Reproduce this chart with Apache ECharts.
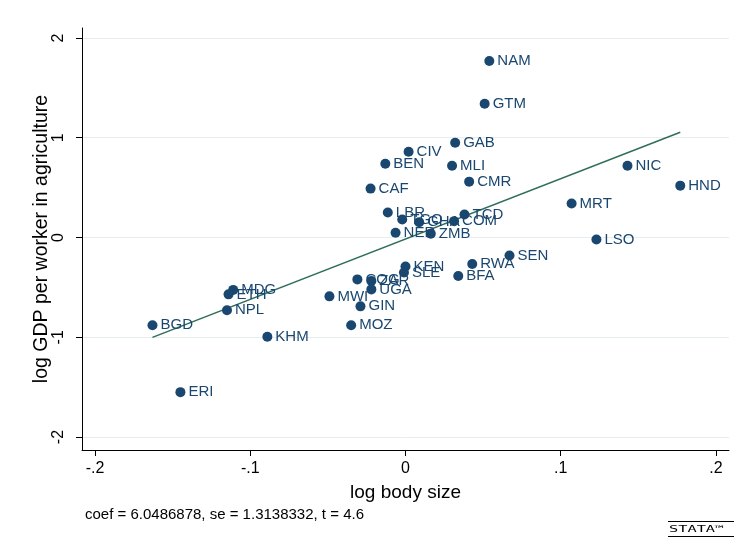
<!DOCTYPE html>
<html>
<head>
<meta charset="utf-8">
<script src="https://cdn.jsdelivr.net/npm/echarts@6/dist/echarts.min.js"></script>
<style>html,body{margin:0;padding:0;background:#fff}#c{width:737px;height:542px}</style>
</head>
<body>
<div id="c"></div>
<script>
const countries = ["NAM","GTM","GAB","CIV","BEN","MLI","CMR","CAF","NIC","HND","MRT","LSO","LBR","TGO","GHA","COM","TCD","NER","ZMB","KEN","SLE","BFA","RWA","SEN","COG","ZAR","UGA","MWI","GIN","MOZ","KHM","MDG","ETH","NPL","BGD","ERI"];
const bodySize = [0.054,0.051,0.032,0.002,-0.013,0.030,0.041,-0.0225,0.143,0.177,0.107,0.123,-0.0114,-0.0021,0.0088,0.0313,0.038,-0.0064,0.0163,0.000,-0.001,0.034,0.043,0.067,-0.031,-0.022,-0.022,-0.049,-0.029,-0.035,-0.089,-0.111,-0.114,-0.115,-0.163,-0.145];
const gdpAg = [1.77,1.34,0.95,0.86,0.74,0.72,0.56,0.49,0.72,0.52,0.34,-0.02,0.25,0.18,0.154,0.164,0.23,0.047,0.037,-0.29,-0.35,-0.385,-0.265,-0.18,-0.42,-0.435,-0.52,-0.59,-0.69,-0.88,-0.995,-0.525,-0.57,-0.73,-0.88,-1.55];
const xTicks = [-0.2,-0.1,0,0.1,0.2];
const xTickLabels = ["-.2","-.1","0",".1",".2"];
const yTicks = [-2,-1,0,1,2];
const coef = 6.0486878, intercept = -0.015;
const note = "coef = 6.0486878, se = 1.3138332, t = 4.6";

const navy = "#1a476f";
const pts = countries.map((c,i)=>[bodySize[i], gdpAg[i], c]);
const xmin = Math.min(...bodySize), xmax = Math.max(...bodySize);
const fit = [[xmin, intercept + coef*xmin],[xmax, intercept + coef*xmax]];

const chart = echarts.init(document.getElementById('c'));
chart.setOption({
  animation:false,
  backgroundColor:'#fff',
  textStyle:{fontFamily:'Liberation Sans, Arial, sans-serif'},
  grid:{left:82,right:8,top:28,bottom:92,containLabel:false},
  xAxis:{type:'value',min:-0.2084,max:0.2084,
    name:'log body size',nameLocation:'middle',nameGap:33,
    nameTextStyle:{fontSize:19,color:'#000'},
    axisLine:{show:true,onZero:false,lineStyle:{color:'#000',width:1}},
    axisTick:{show:true,length:6,inside:false,customValues:xTicks,lineStyle:{color:'#000'}},
    axisLabel:{customValues:xTicks,fontSize:16,color:'#000',margin:11,formatter:v=>{const i=xTicks.findIndex(t=>Math.abs(t-v)<1e-9);return i>=0?xTickLabels[i]:'';}},
    splitLine:{show:false}},
  yAxis:{type:'value',min:-2.13,max:2.1,
    name:'log GDP per worker in agriculture',nameLocation:'middle',nameGap:30,nameRotate:90,nameMoveOverlap:false,
    nameTextStyle:{fontSize:19.5,color:'#000'},
    axisLine:{show:true,onZero:false,lineStyle:{color:'#000',width:1}},
    axisTick:{show:true,length:6,customValues:yTicks,lineStyle:{color:'#000'}},
    axisLabel:{customValues:yTicks,fontSize:16,color:'#000',rotate:90,margin:15,formatter:v=>String(Math.round(v))},
    splitLine:{show:false}},
  series:[
    {type:'line',data:[],z:0,silent:true,
     markLine:{silent:true,z:0,symbol:['none','none'],label:{show:false},
       lineStyle:{color:'#e6eef0',width:1,type:'solid'},
       data:yTicks.map(v=>({yAxis:v}))}},
    {type:'line',data:fit,symbol:'none',lineStyle:{color:'#2e6e5a',width:1.5},z:3},
    {type:'scatter',data:pts,symbolSize:10,itemStyle:{color:navy,opacity:1},z:4,
     label:{show:true,position:'right',distance:3,formatter:p=>p.data[2],fontSize:15,color:navy}}
  ],
  graphic:[
    {type:'text',left:85,top:507,style:{text:note,fill:'#000',font:'15px Liberation Sans, Arial'}},
    {type:'group',left:668,top:521,children:[
      {type:'rect',shape:{x:0,y:0,width:66,height:1},style:{fill:'#000'}},
      {type:'text',x:1,y:4,scaleX:1.7,style:{text:'STATA™',font:'9px DejaVu Sans Mono, monospace',fill:'#000'}},
      {type:'rect',shape:{x:0,y:15,width:66,height:1},style:{fill:'#000'}}
    ]}
  ]
});
</script>
</body>
</html>
